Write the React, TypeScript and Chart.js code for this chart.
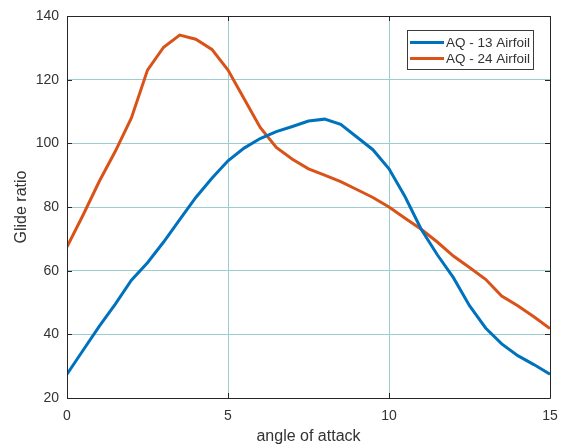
import React, { useEffect, useRef } from "react";
import { Chart, registerables } from "chart.js";

Chart.register(...registerables);

const angles = [0, 0.5, 1, 1.5, 2, 2.5, 3, 3.5, 4, 4.5, 5, 5.5, 6, 6.5, 7, 7.5, 8, 8.5, 9, 9.5, 10, 10.5, 11, 11.5, 12, 12.5, 13, 13.5, 14, 14.5, 15];
const aq13 = [27.5, 35, 42.5, 49.5, 57, 62.5, 69, 76, 83, 89, 94.5, 98.5, 101.5, 103.7, 105.3, 107, 107.6, 106, 102, 98, 92, 83.2, 73, 65, 57.8, 49, 42, 37, 33.3, 30.5, 27.5];
const aq24 = [67.5, 77.5, 88, 97.5, 108, 123, 130.2, 134, 132.7, 129.5, 123, 114, 105, 98.7, 95, 92, 90, 88, 85.5, 83, 80, 76.5, 73, 69, 64.6, 61, 57.3, 52, 49, 45.5, 41.8];
const seriesNames = ["AQ - 13 Airfoil", "AQ - 24 Airfoil"];
const seriesColors = ["#0072BD", "#D95319"];
const xTicks = [0, 5, 10, 15];
const yTicks = [20, 40, 60, 80, 100, 120, 140];

const FONT = "'Liberation Sans', Arial, Helvetica, sans-serif";
const AXIS_COLOR = "#262626";
const TEXT_COLOR = "#333333";

const framePlugin = {
  id: "frame",
  afterDraw(chart: any) {
    const { ctx, chartArea } = chart;
    const { left, right, top, bottom } = chartArea;
    const xs = chart.scales.x;
    const ys = chart.scales.y;
    ctx.save();
    ctx.strokeStyle = AXIS_COLOR;
    ctx.lineWidth = 1;
    ctx.beginPath();
    ctx.rect(Math.round(left) + 0.5, Math.round(top) + 0.5, Math.round(right - left), Math.round(bottom - top));
    ctx.stroke();
    const tl = 5;
    ctx.beginPath();
    xTicks.forEach((v) => {
      const px = Math.round(xs.getPixelForValue(v)) + 0.5;
      ctx.moveTo(px, bottom);
      ctx.lineTo(px, bottom - tl);
      ctx.moveTo(px, top);
      ctx.lineTo(px, top + tl);
    });
    yTicks.forEach((v) => {
      const py = Math.round(ys.getPixelForValue(v)) + 0.5;
      ctx.moveTo(left, py);
      ctx.lineTo(left + tl, py);
      ctx.moveTo(right, py);
      ctx.lineTo(right - tl, py);
    });
    ctx.stroke();

    // legend box
    const bx = 407, by = 30, bw = 126, bh = 39;
    ctx.fillStyle = "#ffffff";
    ctx.fillRect(bx, by, bw, bh);
    ctx.strokeStyle = "#3a3a3a";
    ctx.lineWidth = 1;
    ctx.strokeRect(bx + 0.5, by + 0.5, bw, bh);
    ctx.font = `13.5px ${FONT}`;
    ctx.textBaseline = "middle";
    ctx.textAlign = "left";
    seriesNames.forEach((name, i) => {
      const y = by + 12.5 + i * 16;
      ctx.strokeStyle = seriesColors[i];
      ctx.lineWidth = 3;
      ctx.beginPath();
      ctx.moveTo(410, y);
      ctx.lineTo(444, y);
      ctx.stroke();
      ctx.fillStyle = TEXT_COLOR;
      ctx.fillText(name, 446, y + 1);
    });
    ctx.restore();
  },
};

export default function App() {
  const canvasRef = useRef<HTMLCanvasElement | null>(null);

  useEffect(() => {
    document.body.style.margin = "0";
    const canvas = canvasRef.current;
    if (!canvas) return;
    const chart = new Chart(canvas, {
      type: "line",
      data: {
        datasets: [aq13, aq24].map((vals, i) => ({
          label: seriesNames[i],
          data: angles.map((a, j) => ({ x: a, y: vals[j] })),
          borderColor: seriesColors[i],
          backgroundColor: seriesColors[i],
          borderWidth: 3,
          pointRadius: 0,
          tension: 0,
          fill: false,
        })),
      },
      options: {
        animation: false,
        responsive: true,
        maintainAspectRatio: false,
        layout: { padding: { top: 16, right: 13, left: 0, bottom: 0 } },
        plugins: { legend: { display: false }, tooltip: { enabled: false } },
        scales: {
          x: {
            type: "linear",
            min: 0,
            max: 15,
            afterFit: (s: any) => { s.height = 49; s.paddingRight = 0; s.paddingLeft = 0; },
            afterBuildTicks: (s: any) => { s.ticks = xTicks.map((v) => ({ value: v })); },
            grid: { color: "#9ccdd3", lineWidth: 1, drawTicks: false },
            border: { display: false },
            ticks: { color: TEXT_COLOR, font: { family: FONT, size: 14 }, padding: 10, maxRotation: 0 },
            title: { display: true, text: "angle of attack", color: TEXT_COLOR, font: { family: FONT, size: 16 }, padding: { bottom: 1 } },
          },
          y: {
            type: "linear",
            min: 20,
            max: 140,
            afterFit: (s: any) => { s.width = 67; s.paddingTop = 0; s.paddingBottom = 0; },
            afterBuildTicks: (s: any) => { s.ticks = yTicks.map((v) => ({ value: v })); },
            grid: { color: "#9ccdd3", lineWidth: 1, drawTicks: false },
            border: { display: false },
            ticks: { color: TEXT_COLOR, font: { family: FONT, size: 14 }, padding: 8 },
            title: { display: true, text: "Glide ratio", color: TEXT_COLOR, font: { family: FONT, size: 16 }, padding: { top: 12 } },
          },
        },
      },
      plugins: [framePlugin],
    });
    return () => chart.destroy();
  }, []);

  return (
    <div style={{ position: "relative", width: 563, height: 447 }}>
      <canvas ref={canvasRef} />
    </div>
  );
}
